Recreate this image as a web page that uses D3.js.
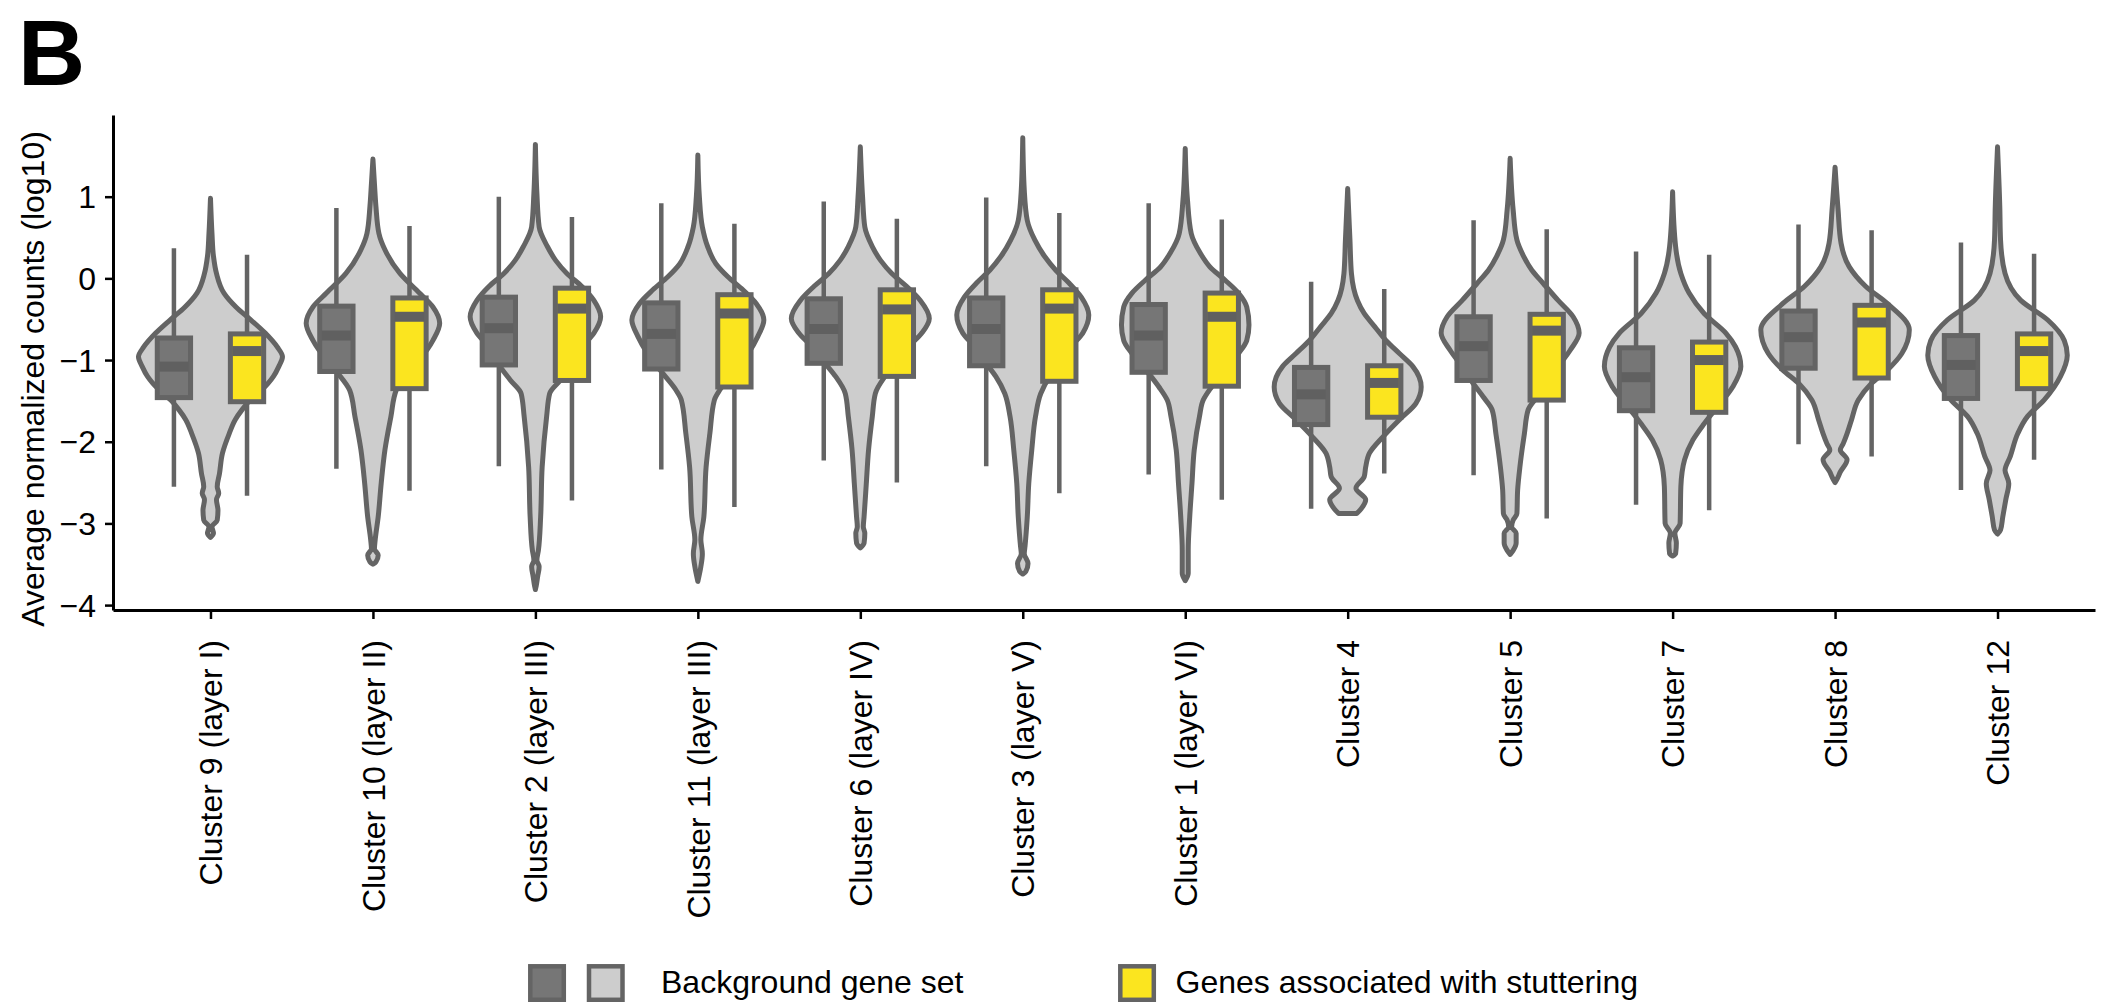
<!DOCTYPE html>
<html>
<head>
<meta charset="utf-8">
<script src="https://cdn.jsdelivr.net/npm/d3@7"></script>
<style>
  html, body { margin: 0; padding: 0; background: #ffffff; }
  svg { display: block; }
  text { font-family: "Liberation Sans", Arial, Helvetica, sans-serif; fill: #000; }
</style>
</head>
<body>
<svg id="chart" width="2105" height="1002"></svg>
<script>
// ---- data -------------------------------------------------------------
const clusters = [
  "Cluster 9 (layer I)", "Cluster 10 (layer II)", "Cluster 2 (layer III)",
  "Cluster 11 (layer III)", "Cluster 6 (layer IV)", "Cluster 3 (layer V)",
  "Cluster 1 (layer VI)", "Cluster 4", "Cluster 5", "Cluster 7", "Cluster 8", "Cluster 12"
];

const yTicks = [-4, -3, -2, -1, 0, 1];

// Background gene set: [lower whisker, Q1, median, Q3, upper whisker] (log10)
const backgroundStats = [
  [-2.55, -1.46, -1.08, -0.73, 0.37],
  [-2.33, -1.14, -0.70, -0.34, 0.86],
  [-2.30, -1.06, -0.61, -0.23, 1.00],
  [-2.34, -1.11, -0.68, -0.30, 0.92],
  [-2.23, -1.04, -0.62, -0.25, 0.94],
  [-2.30, -1.07, -0.62, -0.24, 0.99],
  [-2.40, -1.15, -0.70, -0.32, 0.92],
  [-2.82, -1.79, -1.42, -1.09, -0.04],
  [-2.41, -1.25, -0.83, -0.47, 0.71],
  [-2.77, -1.62, -1.21, -0.85, 0.33],
  [-2.03, -1.10, -0.72, -0.40, 0.66],
  [-2.59, -1.47, -1.06, -0.70, 0.44]
];

// Genes associated with stuttering: [lower whisker, Q1, median, Q3, upper whisker]
const stutteringStats = [
  [-2.66, -1.51, -0.89, -0.68, 0.29],
  [-2.60, -1.35, -0.47, -0.24, 0.64],
  [-2.72, -1.25, -0.37, -0.12, 0.75],
  [-2.80, -1.33, -0.43, -0.20, 0.67],
  [-2.50, -1.20, -0.38, -0.14, 0.73],
  [-2.63, -1.26, -0.37, -0.14, 0.80],
  [-2.71, -1.32, -0.47, -0.18, 0.72],
  [-2.39, -1.70, -1.28, -1.07, -0.13],
  [-2.94, -1.49, -0.64, -0.44, 0.60],
  [-2.84, -1.64, -1.00, -0.78, 0.29],
  [-2.18, -1.22, -0.54, -0.33, 0.59],
  [-2.22, -1.35, -0.89, -0.68, 0.30]
];

// Background density profiles: [value (log10), relative density]
const violinDensity = [
  [[0.98,0],[0.55,0.02],[0.27,0.04],[0.06,0.08],[-0.18,0.18],[-0.35,0.34],[-0.51,0.54],[-0.67,0.73],[-0.84,0.89],[-0.96,0.96],[-1.08,0.91],[-1.20,0.84],[-1.37,0.68],[-1.49,0.53],[-1.61,0.42],[-1.73,0.33],[-1.90,0.25],[-2.14,0.16],[-2.39,0.12],[-2.55,0.09],[-2.63,0.11],[-2.71,0.08],[-2.84,0.10],[-2.96,0.09],[-3.04,0.02],[-3.12,0.04],[-3.17,0]],
  [[1.46,0],[1.16,0.02],[0.88,0.04],[0.55,0.08],[0.35,0.16],[0.06,0.36],[-0.18,0.62],[-0.35,0.80],[-0.55,0.89],[-0.76,0.80],[-1.00,0.62],[-1.16,0.47],[-1.37,0.31],[-1.69,0.24],[-2.10,0.16],[-2.51,0.11],[-2.92,0.07],[-3.20,0.03],[-3.31,0.02],[-3.39,0.07],[-3.47,0.04],[-3.50,0]],
  [[1.64,0],[1.04,0.02],[0.63,0.05],[0.39,0.16],[0.22,0.27],[0.06,0.42],[-0.10,0.62],[-0.27,0.78],[-0.47,0.87],[-0.67,0.78],[-0.84,0.62],[-1.08,0.47],[-1.25,0.33],[-1.41,0.19],[-1.69,0.15],[-2.31,0.09],[-2.92,0.07],[-3.33,0.04],[-3.45,0.02],[-3.53,0.05],[-3.65,0.03],[-3.77,0.01],[-3.81,0]],
  [[1.51,0],[1.00,0.02],[0.63,0.06],[0.39,0.13],[0.18,0.24],[0.02,0.40],[-0.14,0.60],[-0.31,0.78],[-0.51,0.88],[-0.71,0.80],[-0.92,0.67],[-1.16,0.47],[-1.37,0.29],[-1.49,0.22],[-1.90,0.16],[-2.31,0.11],[-2.92,0.08],[-3.20,0.04],[-3.37,0.06],[-3.53,0.04],[-3.71,0]],
  [[1.61,0],[1.00,0.03],[0.63,0.06],[0.39,0.16],[0.22,0.27],[0.06,0.42],[-0.10,0.62],[-0.27,0.80],[-0.49,0.92],[-0.67,0.82],[-0.84,0.64],[-1.04,0.47],[-1.20,0.33],[-1.41,0.20],[-1.69,0.16],[-2.10,0.11],[-2.51,0.08],[-2.92,0.05],[-3.04,0.04],[-3.12,0.06],[-3.24,0.05],[-3.30,0]],
  [[1.72,0],[1.08,0.02],[0.71,0.06],[0.47,0.16],[0.27,0.29],[0.10,0.44],[-0.06,0.62],[-0.23,0.78],[-0.45,0.88],[-0.67,0.80],[-0.84,0.64],[-1.04,0.49],[-1.20,0.36],[-1.41,0.24],[-1.69,0.17],[-2.10,0.12],[-2.51,0.08],[-2.92,0.06],[-3.28,0.03],[-3.37,0.02],[-3.49,0.07],[-3.59,0.04],[-3.62,0]],
  [[1.59,0],[0.96,0.03],[0.55,0.08],[0.31,0.20],[0.14,0.33],[-0.02,0.53],[-0.18,0.71],[-0.35,0.82],[-0.57,0.85],[-0.76,0.82],[-0.92,0.71],[-1.16,0.49],[-1.33,0.35],[-1.49,0.24],[-1.69,0.19],[-2.10,0.12],[-2.51,0.09],[-2.92,0.06],[-3.33,0.04],[-3.61,0.04],[-3.70,0]],
  [[1.10,0],[0.47,0.03],[0.06,0.05],[-0.27,0.13],[-0.43,0.22],[-0.59,0.36],[-0.76,0.51],[-0.92,0.69],[-1.08,0.87],[-1.33,0.98],[-1.53,0.91],[-1.73,0.69],[-1.94,0.47],[-2.14,0.29],[-2.31,0.24],[-2.43,0.22],[-2.57,0.11],[-2.71,0.24],[-2.82,0.18],[-2.88,0.12]],
  [[1.47,0],[0.84,0.04],[0.47,0.09],[0.27,0.18],[0.10,0.29],[-0.06,0.44],[-0.27,0.64],[-0.47,0.84],[-0.67,0.92],[-0.88,0.80],[-1.08,0.64],[-1.29,0.49],[-1.45,0.36],[-1.61,0.24],[-1.90,0.19],[-2.31,0.13],[-2.59,0.10],[-2.88,0.09],[-2.96,0.04],[-3.04,0.02],[-3.12,0.08],[-3.24,0.08],[-3.33,0.04],[-3.38,0]],
  [[1.06,0],[0.39,0.04],[0.06,0.11],[-0.18,0.22],[-0.43,0.42],[-0.67,0.71],[-0.84,0.84],[-1.08,0.91],[-1.33,0.80],[-1.57,0.60],[-1.78,0.42],[-1.98,0.27],[-2.22,0.16],[-2.55,0.11],[-3.00,0.10],[-3.12,0.03],[-3.24,0.05],[-3.37,0.04],[-3.40,0]],
  [[1.36,0],[0.84,0.04],[0.43,0.08],[0.14,0.19],[-0.10,0.41],[-0.31,0.70],[-0.63,0.99],[-0.92,0.89],[-1.12,0.70],[-1.29,0.48],[-1.49,0.31],[-1.73,0.22],[-1.90,0.16],[-2.02,0.11],[-2.10,0.07],[-2.22,0.16],[-2.37,0.07],[-2.45,0.03],[-2.50,0]],
  [[1.61,0],[0.88,0.03],[0.47,0.04],[0.06,0.10],[-0.27,0.31],[-0.51,0.67],[-0.76,0.89],[-0.94,0.93],[-1.20,0.84],[-1.49,0.62],[-1.69,0.40],[-1.90,0.27],[-2.18,0.17],[-2.35,0.10],[-2.51,0.15],[-2.71,0.11],[-2.92,0.07],[-3.08,0.04],[-3.13,0]]
];

const legendLabels = ["Background gene set", "Genes associated with stuttering"];

// ---- styles -------------------------------------------------------------
const C = {
  outline: "#646464",
  violin: "#cdcdcd",
  bgBox: "#767676",
  stBox: "#fbe51f",
  median: "#606060"
};
const FONT = 32;

// ---- layout & scales ------------------------------------------------------
const svg = d3.select("#chart");

const x = d3.scaleLinear().domain([-0.6, 11.6]).range([113, 2095]);
const y = d3.scaleLinear().domain([-4.06, 2.0]).range([610, 115]);
const halfWidth = d3.scaleLinear().domain([0, 1]).range([0, 75]);

const boxOffset = 0.225;   // x-units between violin centre and each box
const boxWidth = 0.205;    // x-units

// ---- violins --------------------------------------------------------------
const violinArea = d3.area()
  .y(d => y(d[0]))
  .x0(d => -halfWidth(d[1]))
  .x1(d => halfWidth(d[1]))
  .curve(d3.curveMonotoneY);

const plot = svg.append("g");

plot.selectAll("path.violin")
  .data(violinDensity)
  .join("path")
  .attr("class", "violin")
  .attr("transform", (d, i) => `translate(${x(i)},0)`)
  .attr("d", violinArea)
  .attr("fill", C.violin)
  .attr("stroke", C.outline)
  .attr("stroke-width", 5)
  .attr("stroke-linejoin", "round");

// ---- boxplots -------------------------------------------------------------
function drawBoxes(stats, offset, fill, cls) {
  const g = plot.selectAll("g." + cls)
    .data(stats)
    .join("g")
    .attr("class", cls);

  g.append("line")
    .attr("x1", (d, i) => x(i + offset))
    .attr("x2", (d, i) => x(i + offset))
    .attr("y1", d => y(d[0]))
    .attr("y2", d => y(d[4]))
    .attr("stroke", C.outline)
    .attr("stroke-width", 4.5);

  g.append("rect")
    .attr("x", (d, i) => x(i + offset - boxWidth / 2))
    .attr("width", (d, i) => x(i + offset + boxWidth / 2) - x(i + offset - boxWidth / 2))
    .attr("y", d => y(d[3]))
    .attr("height", d => y(d[1]) - y(d[3]))
    .attr("fill", fill)
    .attr("stroke", C.outline)
    .attr("stroke-width", 5);

  g.append("line")
    .attr("x1", (d, i) => x(i + offset - boxWidth / 2) + 2)
    .attr("x2", (d, i) => x(i + offset + boxWidth / 2) - 2)
    .attr("y1", d => y(d[2]))
    .attr("y2", d => y(d[2]))
    .attr("stroke", C.median)
    .attr("stroke-width", 10);
}
drawBoxes(backgroundStats, -boxOffset, C.bgBox, "bg-box");
drawBoxes(stutteringStats, boxOffset, C.stBox, "st-box");

// ---- axes -----------------------------------------------------------------
const yAxis = svg.append("g")
  .attr("transform", `translate(${x.range()[0]},0)`)
  .call(d3.axisLeft(y).tickValues(yTicks).tickFormat(d3.format("d"))
    .tickSize(8).tickSizeOuter(0).tickPadding(9));

const xAxis = svg.append("g")
  .attr("transform", `translate(0,${y.range()[0]})`)
  .call(d3.axisBottom(x).tickValues(d3.range(clusters.length))
    .tickFormat(i => clusters[i]).tickSize(9).tickSizeOuter(0));

[yAxis, xAxis].forEach(a => {
  a.select(".domain").attr("stroke", "#000").attr("stroke-width", 3);
  a.selectAll(".tick line").attr("stroke", "#000").attr("stroke-width", 2.5);
  a.selectAll("text")
    .attr("font-family", "Liberation Sans, Arial, sans-serif")
    .attr("font-size", FONT)
    .attr("fill", "#000");
});

yAxis.selectAll(".tick text").attr("dy", "0.35em");

xAxis.selectAll(".tick text")
  .attr("transform", "rotate(-90)")
  .attr("text-anchor", "end")
  .attr("x", -30)
  .attr("y", 0)
  .attr("dy", "0.35em");

// y-axis title
svg.append("text")
  .attr("transform", "translate(44,379) rotate(-90)")
  .attr("text-anchor", "middle")
  .attr("font-size", FONT)
  .text("Average normalized counts (log10)");

// panel letter
svg.append("text")
  .attr("x", 18)
  .attr("y", 85)
  .attr("font-size", 93)
  .attr("font-weight", "bold")
  .text("B");

// ---- legend ---------------------------------------------------------------
const legend = svg.append("g");
const swatches = [
  { x: 530.3, fill: C.bgBox },
  { x: 589, fill: C.violin },
  { x: 1120.3, fill: C.stBox }
];
legend.selectAll("rect")
  .data(swatches)
  .join("rect")
  .attr("x", d => d.x)
  .attr("y", 966.3)
  .attr("width", 33.5)
  .attr("height", 33.5)
  .attr("fill", d => d.fill)
  .attr("stroke", C.outline)
  .attr("stroke-width", 4.5);

legend.selectAll("text")
  .data(legendLabels)
  .join("text")
  .attr("x", (d, i) => [661, 1175.5][i])
  .attr("y", 993)
  .attr("font-size", FONT)
  .text(d => d);
</script>
</body>
</html>
